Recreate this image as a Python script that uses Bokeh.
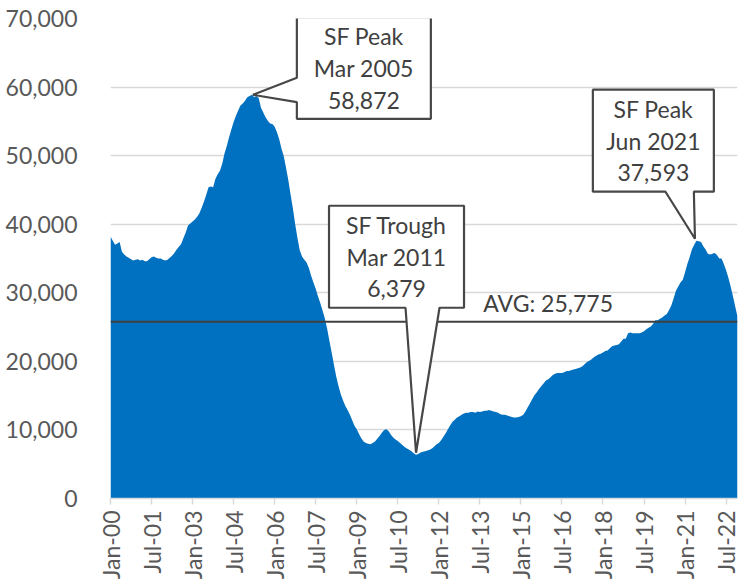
import numpy as np
from bokeh.plotting import figure
from bokeh.models import ColumnDataSource, FixedTicker, NumeralTickFormatter, Range1d
from bokeh.core.properties import value
from bokeh.embed import file_html
from bokeh.resources import INLINE

# ---------------- data (monthly, Jan-2000 .. Dec-2022) ----------------
y2000 = [38200, 37600, 37000, 37200, 37400, 36000, 35600, 35300, 35100, 34900, 34700, 34800]
y2001 = [34900, 34700, 34800, 34600, 34600, 34900, 35200, 35300, 35100, 35000, 35000, 34800]
y2002 = [34700, 34800, 35100, 35400, 35800, 36300, 36700, 37100, 38000, 38800, 39800, 40100]
y2003 = [40400, 40700, 41100, 41600, 42400, 43300, 44300, 45400, 45500, 45400, 46600, 47300]
y2004 = [47800, 48800, 50300, 51400, 52700, 53800, 54900, 55800, 56600, 57300, 57600, 58000]
y2005 = [58500, 58700, 58872, 58500, 58700, 58400, 57000, 56300, 55600, 55100, 54700, 54600]
y2006 = [54200, 53400, 52400, 51000, 49900, 48200, 46400, 44300, 42300, 40000, 38000, 36200]
y2007 = [35300, 34800, 34400, 33600, 32500, 31500, 30600, 29500, 28500, 27400, 26300, 24800]
y2008 = [23000, 21300, 19500, 17800, 16400, 15200, 14300, 13500, 12900, 12200, 11400, 10600]
y2009 = [10100, 9400, 8800, 8300, 8100, 8000, 7900, 8100, 8300, 8700, 9100, 9600]
y2010 = [10000, 10100, 9800, 9300, 8900, 8600, 8400, 8100, 7800, 7500, 7300, 7100]
y2011 = [6900, 6600, 6379, 6500, 6700, 6800, 6900, 7000, 7100, 7300, 7600, 7900]
y2012 = [8100, 8500, 9000, 9500, 10100, 10700, 11200, 11500, 11800, 12000, 12200, 12400]
y2013 = [12500, 12500, 12600, 12600, 12500, 12700, 12600, 12700, 12800, 12800, 12900, 12800]
y2014 = [12700, 12600, 12500, 12300, 12200, 12200, 12100, 12000, 11900, 11800, 11800, 11900]
y2015 = [12000, 12200, 12700, 13300, 13900, 14500, 15100, 15500, 16000, 16400, 16800, 17200]
y2016 = [17400, 17700, 18000, 18200, 18300, 18300, 18300, 18400, 18600, 18600, 18700, 18800]
y2017 = [18900, 19000, 19100, 19300, 19600, 19900, 20100, 20300, 20600, 20800, 21000, 21100]
y2018 = [21300, 21500, 21600, 21900, 22200, 22300, 22400, 22500, 22900, 23300, 23300, 24100]
y2019 = [24200, 24100, 24100, 24100, 24100, 24200, 24400, 24700, 24900, 25100, 25500, 26000]
y2020 = [26000, 26200, 26400, 26700, 26900, 27500, 28200, 29200, 30300, 30900, 31500, 31900]
y2021 = [33000, 34200, 35200, 36300, 37000, 37593, 37500, 37400, 36800, 36300, 35700, 35600]
y2022 = [35700, 35800, 35500, 35000, 35000, 34200, 33300, 32200, 30900, 29500, 28000, 26500]

AVG = 25775
tick_labels = ["Jan-00", "Jul-01", "Jan-03", "Jul-04", "Jan-06", "Jul-07", "Jan-09", "Jul-10",
               "Jan-12", "Jul-13", "Jan-15", "Jul-16", "Jan-18", "Jul-19", "Jan-21", "Jul-22"]
month_names = ["Jan", "Feb", "Mar", "Apr", "May", "Jun", "Jul", "Aug", "Sep", "Oct", "Nov", "Dec"]
y_ticks = [0, 10000, 20000, 30000, 40000, 50000, 60000, 70000]

# callouts: (title, month index of annotated point)
callout_titles = ["SF Peak", "SF Trough", "SF Peak"]
callout_months = [62, 134, 257]

values = (y2000 + y2001 + y2002 + y2003 + y2004 + y2005 + y2006 + y2007 + y2008 + y2009 +
          y2010 + y2011 + y2012 + y2013 + y2014 + y2015 + y2016 + y2017 + y2018 + y2019 +
          y2020 + y2021 + y2022)
months = list(range(len(values)))

def label_to_month(lbl):
    mon, yy = lbl.split("-")
    return (int(yy)) * 12 + month_names.index(mon)

tick_pos = [label_to_month(l) for l in tick_labels]

# ---------------- figure ----------------
FONT = "Lato"
W, H = 739, 587
FW, FH = 627, 480
XMAX = len(values) - 1
YMAX = 70000

p = figure(width=W, height=H, x_range=Range1d(0, XMAX), y_range=Range1d(0, YMAX),
           output_backend="svg", toolbar_location=None,
           min_border_left=110, min_border_right=2, min_border_top=18, min_border_bottom=89)
p.outline_line_color = None
p.background_fill_color = "white"
p.xgrid.grid_line_color = None
p.ygrid.grid_line_color = "#D9D9D9"
p.ygrid.grid_line_width = 1.3
p.ygrid.ticker = FixedTicker(ticks=y_ticks)

p.yaxis.ticker = FixedTicker(ticks=y_ticks)
p.yaxis.formatter = NumeralTickFormatter(format="0,0")
p.yaxis.axis_line_color = None
p.yaxis.major_tick_line_color = None
p.yaxis.minor_tick_line_color = None
p.yaxis.major_label_standoff = 27
p.yaxis.major_label_text_font = FONT
p.yaxis.major_label_text_font_size = "23px"
p.yaxis.major_label_text_color = "#595959"

p.xaxis.ticker = FixedTicker(ticks=tick_pos)
p.xaxis.major_label_overrides = {pos: lbl for pos, lbl in zip(tick_pos, tick_labels)}
p.xaxis.major_label_orientation = np.pi / 2
p.xaxis.axis_line_color = "#D9D9D9"
p.xaxis.axis_line_width = 1.5
p.xaxis.major_tick_line_color = "#D9D9D9"
p.xaxis.major_tick_line_width = 1.5
p.xaxis.major_tick_out = 6
p.xaxis.major_tick_in = 0
p.xaxis.minor_tick_line_color = None
p.xaxis.major_label_standoff = 6
p.xaxis.major_label_text_font = FONT
p.xaxis.major_label_text_font_size = "23px"
p.xaxis.major_label_text_color = "#595959"

src = ColumnDataSource(dict(m=months, v=values))
p.varea(x="m", y1=0, y2="v", source=src, fill_color="#0070C0")

# average line
p.segment(x0=[0], x1=[XMAX], y0=[AVG], y1=[AVG], line_color="#404040", line_width=2)

dx = XMAX / FW   # data units per pixel
dy = YMAX / FH

p.text(x=[(482.7 - 110) * dx], y=[AVG + 18.6 * dy], text=["AVG: {:,}".format(AVG)],
       text_font=value(FONT), text_font_size="23px", text_color="#404040",
       text_align="left", text_baseline="middle")

# callout shapes, as pixel offsets from the annotated point (y downwards)
shapes = [
    [(45, -77.6), (179, -77.6), (179, 24), (45, 24), (45, 7.4), (1, 0), (45, -17)],
    [(-87, -249), (48, -249), (48, -147), (23.5, -147), (0, -2), (-10.5, -147), (-87, -147)],
    [(-103.6, -151), (17.4, -151), (17.4, -49), (-2.6, -49), (-1.5, -2), (-31, -49), (-103.6, -49)],
]

for title, m, shape in zip(callout_titles, callout_months, shapes):
    v = values[m]
    xs = [m + ox * dx for ox, oy in shape]
    ys = [v - oy * dy for ox, oy in shape]
    p.patch(xs, ys, fill_color="white", line_color="#474747", line_width=2.2)
    left = min(o[0] for o in shape[:4]); right = max(o[0] for o in shape[:4])
    top = min(o[1] for o in shape[:4]); bottom = max(o[1] for o in shape[:4])
    cx = (left + right) / 2
    cy = (top + bottom) / 2
    lines = [title, "{} {}".format(month_names[m % 12], 2000 + m // 12), "{:,}".format(v)]
    offs = [-32, 0, 32]
    p.text(x=[m + cx * dx] * 3, y=[v - (cy + o) * dy for o in offs], text=lines,
           text_font=value(FONT), text_font_size="23px", text_color="#404040",
           text_align="center", text_baseline="middle")

open("out.html", "w").write(file_html(p, INLINE))
